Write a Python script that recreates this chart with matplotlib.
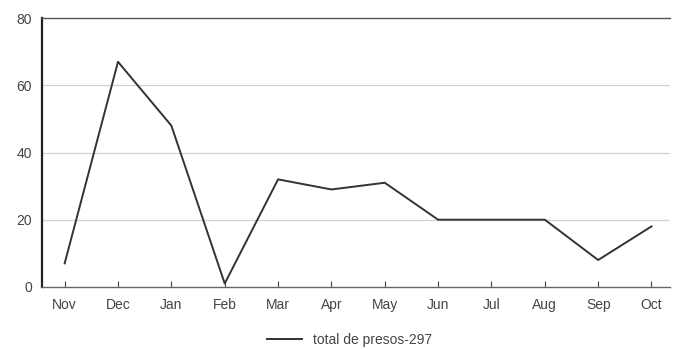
import matplotlib.pyplot as plt
import numpy as np

months = ["Nov", "Dec", "Jan", "Feb", "Mar", "Apr", "May", "Jun", "Jul", "Aug", "Sep", "Oct"]
presos = [7, 67, 48, 1, 32, 29, 31, 20, 20, 20, 8, 18]
yticks = [0, 20, 40, 60, 80]
label = "total de presos-297"

plt.rcParams['font.family'] = ['Liberation Sans', 'DejaVu Sans']

fig = plt.figure(figsize=(6.73, 3.49), dpi=100)
ax = fig.add_axes([0.062, 0.178, 0.933, 0.77])

x = np.arange(len(months))
ax.plot(x, presos, color="#333333", linewidth=1.4, label=label)

ax.set_ylim(0, 80)
ax.set_xlim(-0.43, 11.34)
ax.set_yticks(yticks)
ax.set_xticks(x)
ax.set_xticklabels(months, color="#444444", fontsize=10)
ax.set_yticklabels([str(v) for v in yticks], color="#444444", fontsize=10)

# light grid, dark top line at 80
for v in yticks[1:4]:
    ax.axhline(v, color="#d2d2d2", linewidth=0.9, zorder=0)

ax.spines["right"].set_visible(False)
ax.spines["left"].set_linewidth(1.6)
ax.spines["left"].set_color("#222222")
ax.spines["top"].set_color("#555555")
ax.spines["top"].set_linewidth(1.0)
ax.spines["bottom"].set_color("#666666")
ax.spines["bottom"].set_linewidth(1.0)

ax.tick_params(axis="x", direction="in", length=4, color="#444444", pad=8)
ax.tick_params(axis="y", length=0, pad=7)

fig.legend(loc="lower center", bbox_to_anchor=(0.52, -0.03), frameon=False,
           fontsize=10, handlelength=2.5, labelcolor="#444444")

fig.savefig("out.png", dpi=100)
